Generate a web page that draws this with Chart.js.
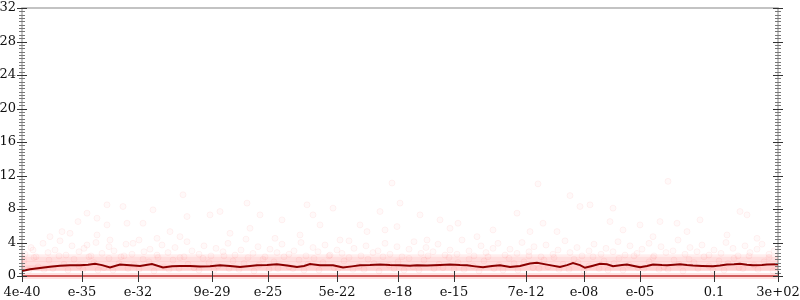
<!DOCTYPE html>
<html>
<head>
<meta charset="utf-8">
<script src="https://cdn.jsdelivr.net/npm/chart.js@4/dist/chart.umd.min.js"></script>
<style>
  html, body { margin: 0; padding: 0; background: #fff; }
  #wrap { width: 800px; height: 300px; }
</style>
</head>
<body>
<div id="wrap"><canvas id="chart"></canvas></div>
<script>
// x domain runs 0..756 (one unit per pixel column of the plot)
const xTickPos = [0, 60, 116, 190, 246, 315, 376, 432, 504, 562, 618, 692, 756];
const xTickLabels = ["4e-40", "e-35", "e-32", "9e-29", "e-25", "5e-22", "e-18", "e-15", "7e-12", "e-08", "e-05", "0.1", "3e+02"];

// running mean (dark red line)
const avgX = [0, 8, 18, 28, 38, 48, 58, 66, 73, 80, 88, 98, 108, 118, 130, 141, 150, 158, 168, 178, 188, 198, 208, 218, 228, 235, 245, 255, 265, 275, 282, 288, 298, 311, 321, 330, 338, 348, 358, 368, 378, 388, 395, 405, 418, 428, 438, 445, 453, 461, 470, 478, 488, 498, 508, 515, 525, 538, 545, 551, 558, 563, 570, 578, 585, 591, 600, 605, 612, 618, 625, 631, 640, 645, 652, 658, 665, 671, 680, 691, 698, 705, 712, 718, 725, 731, 740, 745, 756];
const avgY = [0.6, 0.8, 0.96, 1.1, 1.22, 1.28, 1.28, 1.35, 1.46, 1.3, 1.02, 1.36, 1.28, 1.2, 1.42, 1.02, 1.15, 1.2, 1.2, 1.12, 1.16, 1.28, 1.18, 1.08, 1.2, 1.28, 1.3, 1.4, 1.25, 1.08, 1.2, 1.42, 1.28, 1.28, 1.02, 1.15, 1.28, 1.3, 1.36, 1.3, 1.28, 1.22, 1.28, 1.24, 1.3, 1.36, 1.3, 1.28, 1.15, 1.04, 1.2, 1.28, 1.08, 1.2, 1.48, 1.58, 1.36, 1.08, 1.3, 1.56, 1.3, 0.98, 1.2, 1.46, 1.4, 1.16, 1.3, 1.36, 1.2, 1.04, 1.2, 1.36, 1.3, 1.28, 1.35, 1.4, 1.3, 1.24, 1.2, 1.16, 1.25, 1.36, 1.4, 1.46, 1.35, 1.28, 1.3, 1.36, 1.4];

// sparse high samples
const highX = [161, 85, 101, 165, 56, 131, 75, 65, 40, 28, 48, 105, 121, 148, 85, 75, 88, 135, 158, 11, 65, 111, 370, 225, 285, 188, 198, 238, 260, 291, 298, 311, 338, 358, 345, 208, 228, 253, 278, 318, 363, 375, 516, 548, 398, 418, 495, 521, 558, 568, 471, 436, 428, 405, 455, 508, 535, 378, 646, 591, 718, 725, 588, 618, 638, 655, 678, 601, 665, 705, 631, 735];
const highY = [9.7, 8.5, 8.3, 7.1, 6.5, 7.9, 6.9, 7.5, 5.3, 4.7, 5.1, 6.3, 6.3, 5.3, 6.1, 4.9, 4.3, 4.5, 4.7, 3.1, 3.7, 3.9, 11.1, 8.7, 8.5, 7.3, 7.7, 7.3, 6.7, 7.3, 6.1, 8.1, 6.1, 7.7, 5.3, 5.1, 5.7, 4.5, 4.9, 4.3, 5.5, 5.9, 11.0, 9.6, 7.3, 6.7, 7.5, 6.3, 8.3, 8.5, 5.5, 6.3, 5.7, 4.3, 4.7, 5.3, 5.3, 8.7, 11.3, 8.1, 7.7, 7.3, 6.5, 6.1, 6.5, 6.3, 6.7, 5.5, 5.3, 4.9, 4.7, 4.5];

// mid-level samples
const midX = [3, 9, 14, 21, 26, 33, 38, 44, 50, 57, 62, 69, 74, 80, 87, 92, 99, 104, 110, 117, 122, 128, 135, 140, 146, 153, 158, 165, 170, 177, 182, 189, 194, 201, 206, 213, 219, 224, 231, 236, 243, 248, 255, 260, 267, 272, 279, 284, 291, 296, 303, 308, 315, 320, 327, 332, 339, 344, 351, 356, 363, 368, 375, 380, 387, 392, 399, 404, 411, 416, 423, 428, 435, 440, 447, 452, 459, 464, 471, 476, 483, 488, 495, 500, 507, 512, 519, 524, 531, 536, 543, 548, 555, 560, 567, 572, 579, 584, 591, 596, 603, 608, 615, 620, 627, 632, 639, 644, 651, 656, 663, 668, 675, 680, 687, 692, 699, 704, 711, 716, 723, 728, 735, 740, 747, 752];
const midY = [2.6, 3.4, 2.3, 3.9, 2.8, 3.1, 4.2, 2.5, 3.6, 2.9, 3.3, 2.4, 4.0, 2.7, 3.5, 3.0, 2.3, 3.8, 2.6, 4.3, 2.9, 3.2, 2.5, 3.7, 2.8, 3.4, 2.2, 4.1, 3.0, 2.6, 3.6, 2.4, 3.3, 2.9, 3.9, 2.5, 3.1, 4.4, 2.7, 3.5, 2.3, 3.2, 2.8, 3.8, 2.6, 3.0, 4.0, 2.4, 3.4, 2.9, 3.7, 2.5, 3.1, 2.7, 4.2, 3.3, 2.4, 3.6, 2.8, 3.0, 3.9, 2.6, 3.5, 2.3, 3.2, 4.1, 2.7, 3.4, 2.9, 3.8, 2.5, 3.1, 2.6, 4.3, 3.0, 2.4, 3.6, 2.8, 3.3, 3.9, 2.5, 3.2, 2.7, 4.0, 2.9, 3.5, 2.3, 3.7, 2.6, 3.1, 4.2, 2.8, 3.4, 2.4, 3.0, 3.8, 2.6, 3.3, 2.9, 4.1, 2.5, 3.6, 2.7, 3.2, 3.9, 2.4, 3.5, 2.8, 3.0, 4.3, 2.6, 3.4, 2.9, 3.7, 2.5, 3.1, 2.7, 4.0, 3.3, 2.4, 3.6, 2.8, 3.2, 3.8, 2.6, 3.0];

// dense low samples
const lowX = [2, 7, 12, 16, 22, 27, 31, 37, 42, 46, 52, 57, 61, 67, 72, 76, 82, 87, 91, 97, 102, 106, 112, 117, 121, 127, 132, 136, 142, 147, 151, 157, 162, 166, 172, 177, 181, 187, 192, 196, 202, 207, 211, 217, 222, 226, 232, 237, 241, 247, 252, 256, 262, 267, 271, 277, 282, 286, 292, 297, 301, 307, 312, 316, 322, 327, 331, 337, 342, 346, 352, 357, 361, 367, 372, 376, 382, 387, 391, 397, 402, 406, 412, 417, 421, 427, 432, 436, 442, 447, 451, 457, 462, 466, 472, 477, 481, 487, 492, 496, 502, 507, 511, 517, 522, 526, 532, 537, 541, 547, 552, 556, 562, 567, 571, 577, 582, 586, 592, 597, 601, 607, 612, 616, 622, 627, 631, 637, 642, 646, 652, 657, 661, 667, 672, 676, 682, 687, 691, 697, 702, 706, 712, 717, 721, 727, 732, 736, 742, 747, 751];
const lowY = [1.8, 0.7, 2.2, 1.1, 0.8, 1.9, 0.9, 2.4, 1.4, 0.7, 2.0, 1.2, 0.8, 2.3, 1.6, 0.7, 1.0, 2.1, 0.7, 1.5, 2.4, 0.9, 1.3, 0.8, 2.0, 1.7, 0.6, 2.2, 1.1, 0.8, 1.9, 0.9, 2.3, 1.4, 1.0, 0.7, 2.1, 1.6, 0.7, 1.2, 2.4, 0.9, 1.8, 0.8, 1.5, 2.2, 0.6, 1.3, 2.0, 0.8, 1.7, 0.9, 2.3, 1.1, 0.9, 1.9, 0.7, 1.4, 2.1, 0.7, 1.6, 2.4, 1.0, 0.9, 1.8, 2.2, 0.8, 1.2, 0.8, 2.0, 1.5, 0.6, 2.3, 1.3, 0.9, 1.7, 0.7, 2.1, 1.1, 0.7, 1.9, 2.4, 0.9, 1.4, 1.0, 2.2, 0.8, 1.6, 0.8, 2.0, 1.2, 0.6, 1.8, 2.3, 0.9, 1.3, 0.7, 2.1, 1.5, 0.7, 1.7, 2.4, 1.0, 0.9, 1.9, 1.1, 2.2, 0.8, 1.4, 0.8, 2.0, 1.6, 0.6, 1.2, 2.3, 0.9, 1.8, 0.7, 1.5, 2.1, 0.7, 1.3, 2.4, 1.0, 0.9, 1.7, 2.2, 0.8, 1.1, 0.8, 1.9, 1.4, 0.6, 2.0, 1.6, 0.9, 2.3, 1.2, 0.7, 1.8, 0.7, 1.5, 2.1, 1.0, 0.9, 2.4, 1.3, 0.8, 1.7, 2.2, 0.6];

// levels where the samples pile up
const pileLevels = [1, 2];
const washTop = [2.6, 1.8];
const washBase = 0.6;

function pairs(xs, ys) {
    const out = [];
    for (let i = 0; i < Math.min(xs.length, ys.length); i++) {
        out.push({ x: xs[i], y: ys[i] });
    }
    return out;
}

function flat(y) {
    return [{ x: xTickPos[0], y: y }, { x: xTickPos[xTickPos.length - 1], y: y }];
}

const dotStyle = {
    type: "scatter",
    pointRadius: 3,
    pointHoverRadius: 3,
    borderWidth: 1,
    pointBorderColor: "rgba(255,0,0,0.05)",
    pointBackgroundColor: "rgba(255,0,0,0.025)",
    clip: false,
    order: 3
};

const datasets = [];

washTop.forEach(top => {
    datasets.push({
        type: "line",
        data: flat(top),
        borderWidth: 0,
        pointRadius: 0,
        fill: { value: washBase },
        backgroundColor: "rgba(255,0,0,0.065)",
        order: 5
    });
});

pileLevels.forEach(level => {
    datasets.push({
        type: "line",
        data: flat(level),
        borderWidth: 5,
        borderColor: "rgba(255,0,0,0.07)",
        pointRadius: 0,
        order: 4
    });
});

// zero row
datasets.push({
    type: "line",
    data: flat(0),
    borderWidth: 6,
    borderColor: "rgba(255,0,0,0.12)",
    pointRadius: 0,
    clip: false,
    order: 4
});
datasets.push({
    type: "line",
    data: flat(0),
    borderWidth: 2,
    borderColor: "rgba(210,40,40,0.6)",
    pointRadius: 0,
    clip: false,
    order: 2
});

datasets.push(Object.assign({ data: pairs(lowX, lowY) }, dotStyle));
datasets.push(Object.assign({ data: pairs(midX, midY) }, dotStyle));
datasets.push(Object.assign({ data: pairs(highX, highY) }, dotStyle));

datasets.push({
    type: "line",
    data: pairs(avgX, avgY),
    borderColor: "#8b0000",
    borderWidth: 2,
    pointRadius: 0,
    tension: 0,
    order: 1
});

// frame and crossing tick marks
const axisTicks = {
    id: "axisTicks",
    beforeDatasetsDraw(chart) {
        const { ctx, chartArea: a } = chart;
        ctx.save();
        ctx.strokeStyle = "#b0b0b0";
        ctx.lineWidth = 1.5;
        ctx.beginPath();
        ctx.moveTo(a.left, a.bottom);
        ctx.lineTo(a.left, a.top);
        ctx.lineTo(a.right, a.top);
        ctx.lineTo(a.right, a.bottom);
        ctx.lineTo(a.left, a.bottom);
        ctx.stroke();
        ctx.restore();
    },
    afterDatasetsDraw(chart) {
        const { ctx, chartArea: a, scales } = chart;
        const y = scales.y;
        const x = scales.x;
        ctx.save();
        ctx.lineWidth = 1;
        for (let i = 0; i <= 80; i++) {
            const v = i * 0.4;
            const py = Math.round(y.getPixelForValue(v)) + 0.5;
            const major = i % 10 === 0;
            const len = major ? 5 : 3;
            ctx.strokeStyle = major ? "#333" : "#777";
            [a.left, a.right].forEach(px => {
                ctx.beginPath();
                ctx.moveTo(px - len, py);
                ctx.lineTo(px + len, py);
                ctx.stroke();
            });
        }
        ctx.strokeStyle = "#333";
        xTickPos.forEach(v => {
            const px = Math.round(x.getPixelForValue(v)) + 0.5;
            ctx.beginPath();
            ctx.moveTo(px, a.bottom - 5);
            ctx.lineTo(px, a.bottom + 6);
            ctx.stroke();
        });
        ctx.restore();
    }
};

const tickFont = { family: "DejaVu Serif", size: 13 };

new Chart(document.getElementById("chart"), {
    data: { datasets: datasets },
    options: {
        responsive: true,
        maintainAspectRatio: false,
        animation: false,
        layout: { padding: { top: 8, right: 22, left: 0, bottom: 0 } },
        plugins: {
            legend: { display: false },
            tooltip: { enabled: false }
        },
        scales: {
            x: {
                type: "linear",
                min: xTickPos[0],
                max: xTickPos[xTickPos.length - 1],
                grid: { display: false, drawTicks: false },
                border: { display: false },
                afterBuildTicks: scale => {
                    scale.ticks = xTickPos.map(v => ({ value: v }));
                },
                afterFit: scale => {
                    scale.height = 24;
                    scale.paddingLeft = 0;
                    scale.paddingRight = 0;
                },
                ticks: {
                    autoSkip: false,
                    maxRotation: 0,
                    padding: 9,
                    color: "#111",
                    font: tickFont,
                    callback: (value, index) => xTickLabels[index]
                }
            },
            y: {
                min: 0,
                max: 32,
                grid: { display: false, drawTicks: false },
                border: { display: false },
                afterFit: scale => {
                    scale.width = 22;
                    scale.paddingTop = 0;
                    scale.paddingBottom = 0;
                },
                ticks: {
                    stepSize: 4,
                    padding: 6,
                    color: "#111",
                    font: tickFont
                }
            }
        }
    },
    plugins: [axisTicks]
});
</script>
</body>
</html>
